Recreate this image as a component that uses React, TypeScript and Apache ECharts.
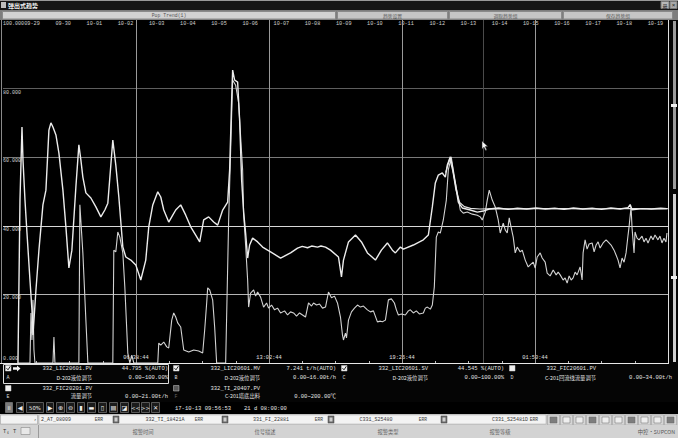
import React, { useEffect, useRef } from "react";
import * as echarts from "echarts";

// ---- axis definitions ----
const SPAN_DAYS = 21 + 8 / 24; // "21 d 08:00:00"
const dateLabels = ["09-29", "09-30", "10-01", "10-02", "10-03", "10-04", "10-05", "10-06", "10-07", "10-08", "10-09", "10-10", "10-11", "10-12", "10-13", "10-14", "10-15", "10-16", "10-17", "10-18", "10-19"];
const firstDateOffset = 0.93;
const cursorTimes = ["06:38:44", "13:02:44", "19:26:44", "01:50:44"];
const yTicks = [0, 20, 40, 60, 80, 100];
const yGridColors = ["rgba(0,0,0,0)", "#b4b4b4", "#d8d8d8", "#7a7a7a", "#5e5e5e", "rgba(0,0,0,0)"];
const faintCursorDay = 15.4;

// ---- series (x: days from trend start, y: % of range) ----
const pvA: number[][] = [
  [0.48, 0], [0.545, 47.5], [0.609, 68.8], [0.641, 59.2], [0.705, 47.5], [0.769, 37.9], [0.865, 24.2], [0.929, 15.5], [0.961, 8.2], [0.993, 12.5],
  [1.057, 21.3], [1.153, 32.9], [1.281, 46.1], [1.377, 50.4], [1.473, 67.9], [1.537, 70.0], [1.602, 68.8], [1.698, 66.5], [1.794, 61.2], [1.922, 50.4],
  [2.018, 39.7], [2.114, 27.7], [2.21, 32.9], [2.338, 51.3], [2.434, 63.6], [2.498, 59.2], [2.562, 54.2], [2.659, 49.6], [2.819, 48.1], [2.979, 45.5],
  [3.139, 42.6], [3.267, 44.6], [3.363, 46.6], [3.459, 57.7], [3.523, 65.0], [3.619, 57.7], [3.716, 48.4], [3.844, 33.8], [3.94, 30.9], [4.1, 30.0],
  [4.26, 28.6], [4.42, 24.2], [4.58, 30.0], [4.676, 39.7], [4.805, 46.1], [4.965, 49.9], [5.061, 48.4], [5.157, 44.6], [5.317, 41.1], [5.445, 43.1],
  [5.541, 44.6], [5.701, 46.1], [5.862, 43.1], [6.022, 39.7], [6.182, 37.3], [6.31, 35.3], [6.438, 41.7], [6.598, 42.6], [6.758, 41.1], [6.887, 40.2],
  [7.047, 44.6], [7.207, 46.9], [7.271, 56.3], [7.335, 76.7], [7.367, 85.4], [7.431, 82.5], [7.527, 81.9], [7.591, 70.8], [7.655, 53.4], [7.719, 44.0],
  [7.783, 37.9], [7.848, 30.6], [7.912, 34.4], [8.008, 36.4], [8.168, 35.3], [8.328, 33.8], [8.488, 32.9], [8.584, 32.4], [8.905, 30.6], [9.225, 32.1],
  [9.449, 33.5], [9.6, 34.0], [9.77, 33.6], [9.9, 34.1], [10.09, 33.8], [10.2, 34.1], [10.346, 33.8], [10.506, 32.9], [10.762, 30.9], [10.858, 25.1],
  [10.922, 30.0], [11.083, 35.3], [11.307, 37.3], [11.499, 35.3], [11.691, 32.1], [11.947, 30.0], [12.139, 32.9], [12.332, 35.0], [12.492, 32.9], [12.588, 32.1],
  [12.748, 33.8], [12.844, 33.2], [13.164, 34.4], [13.485, 35.9], [13.645, 37.3], [13.773, 45.5], [13.869, 52.5], [13.965, 54.8], [14.093, 55.4], [14.19, 54.2],
  [14.254, 57.7], [14.35, 60.1], [14.414, 57.7], [14.51, 52.5], [14.606, 46.9], [14.734, 45.2], [14.99, 44.6], [15.215, 44.0], [15.407, 44.3], [15.6, 44.9],
  [15.9, 45.2], [16.2, 44.8], [16.5, 45.1], [16.8, 44.9], [17.1, 45.2], [17.4, 44.9], [17.7, 45.1], [18.0, 44.8], [18.3, 45.2], [18.6, 44.9],
  [18.9, 45.1], [19.2, 44.8], [19.5, 45.2], [19.8, 44.9], [20.05, 45.3], [20.12, 46.2], [20.18, 44.7], [20.5, 45.0], [20.8, 44.9], [21.1, 45.1], [21.3, 45.0],
];

const mvB: number[][] = [
  [0.48, 0], [0.865, 0], [0.897, 14.6], [0.929, 6.7], [0.961, 18.4], [0.993, 3.8], [1.025, 0], [1.602, 0], [1.634, 7.6], [1.666, 0],
  [2.434, 0], [2.466, 46.1], [2.562, 32.1], [2.659, 12.5], [2.723, 0], [3.523, 0], [3.555, 32.9], [3.619, 32.4], [3.683, 38.2], [3.748, 36.7],
  [3.844, 32.1], [3.908, 22.2], [4.004, 2.9], [4.068, 0], [4.132, 2.3], [4.196, 0], [4.965, 0], [4.997, 5.8], [5.061, 5.2], [5.157, 6.1],
  [5.253, 4.7], [5.317, 4.4], [5.413, 12.5], [5.477, 14.6], [5.541, 13.4], [5.605, 11.7], [5.701, 10.5], [5.798, 3.8], [5.958, 3.2], [6.118, 3.8],
  [6.278, 3.5], [6.406, 2.9], [6.47, 9.6], [6.534, 17.5], [6.566, 21.9], [6.63, 21.3], [6.726, 18.4], [6.79, 10.5], [6.854, 0], [7.143, 0],
  [7.239, 41.7], [7.367, 82.5], [7.463, 81.0], [7.559, 75.8], [7.687, 56.3], [7.719, 43.7], [7.783, 34.4], [7.848, 24.2], [7.88, 16.3], [7.944, 20.4],
  [8.04, 21.3], [8.104, 19.5], [8.168, 20.7], [8.264, 19.2], [8.36, 16.3], [8.456, 17.5], [8.52, 16.0], [8.616, 16.9], [8.712, 15.5], [8.808, 16.0],
  [8.905, 14.6], [9.033, 15.2], [9.129, 14.0], [9.225, 14.9], [9.321, 14.6], [9.417, 13.7], [9.513, 14.6], [9.609, 14.0], [9.705, 13.4], [9.801, 17.5],
  [9.898, 16.6], [9.962, 17.5], [10.058, 16.9], [10.154, 17.2], [10.25, 16.0], [10.346, 16.3], [10.442, 20.7], [10.538, 19.0], [10.634, 19.5], [10.73, 17.5],
  [10.826, 13.4], [10.89, 8.2], [10.922, 6.7], [10.986, 8.7], [11.019, 7.3], [11.083, 12.5], [11.179, 14.9], [11.275, 16.0], [11.371, 16.9], [11.467, 16.3],
  [11.563, 16.6], [11.691, 15.5], [11.787, 14.9], [11.883, 15.2], [12.011, 12.0], [12.107, 12.2], [12.172, 12.0], [12.268, 12.5], [12.364, 18.4], [12.46, 18.7],
  [12.556, 17.5], [12.62, 15.5], [12.684, 14.0], [12.78, 14.3], [12.908, 14.0], [13.004, 15.2], [13.068, 15.5], [13.164, 14.6], [13.26, 15.2], [13.357, 14.3],
  [13.485, 14.6], [13.549, 16.0], [13.613, 16.3], [13.709, 15.7], [13.773, 16.9], [13.837, 22.2], [13.901, 36.7], [13.965, 38.2], [14.029, 37.9], [14.125, 41.7],
  [14.222, 47.5], [14.286, 56.3], [14.382, 60.1], [14.446, 55.4], [14.574, 49.6], [14.67, 44.6], [14.766, 43.7], [14.894, 44.0], [15.054, 43.4], [15.215, 43.1],
  [15.311, 42.6], [15.375, 41.7], [15.471, 44.0], [15.535, 47.5], [15.599, 50.4], [15.695, 47.5], [15.791, 45.5], [15.887, 41.7], [15.951, 37.9], [16.048, 40.8],
  [16.112, 38.8], [16.176, 37.9], [16.24, 42.3], [16.304, 39.4], [16.368, 36.7], [16.432, 32.1], [16.496, 33.8], [16.592, 32.4], [16.657, 32.9], [16.753, 30.0],
  [16.849, 28.0], [16.913, 28.6], [17.009, 29.4], [17.073, 27.7], [17.137, 30.9], [17.233, 32.1], [17.297, 30.6], [17.393, 29.4], [17.457, 26.2], [17.553, 25.4],
  [17.65, 27.1], [17.746, 25.7], [17.81, 26.5], [17.874, 25.7], [17.97, 24.2], [18.034, 24.8], [18.098, 23.3], [18.162, 25.4], [18.226, 24.2], [18.29, 24.8],
  [18.354, 26.5], [18.418, 25.7], [18.514, 28.0], [18.578, 24.2], [18.61, 32.1], [18.674, 35.9], [18.738, 33.2], [18.802, 34.7], [18.899, 35.0], [18.963, 32.4],
  [19.027, 34.4], [19.091, 35.3], [19.155, 33.5], [19.251, 35.0], [19.347, 35.9], [19.411, 35.3], [19.507, 34.4], [19.603, 32.9], [19.667, 31.5], [19.731, 30.0],
  [19.795, 27.7], [19.859, 30.6], [19.924, 29.4], [19.988, 32.1], [20.052, 37.3], [20.084, 39.7], [20.148, 45.5], [20.18, 39.4], [20.244, 32.1], [20.276, 38.2],
  [20.34, 36.4], [20.404, 35.9], [20.5, 37.0], [20.564, 35.3], [20.628, 36.4], [20.692, 35.0], [20.788, 37.0], [20.852, 35.9], [20.916, 37.3], [21.012, 35.9],
  [21.076, 37.0], [21.14, 35.0], [21.204, 36.4], [21.268, 35.3], [21.3, 37.9],
];

const svC: number[][] = [
  [14.2, 55.5], [14.33, 59.5], [14.43, 56.0], [14.53, 50.5], [14.65, 46.8], [14.8, 45.6], [15.0, 45.1], [15.3, 44.9], [15.8, 45.0], [16.5, 44.9],
  [17.2, 45.0], [18.0, 45.0], [18.8, 44.9], [19.6, 45.0], [20.3, 45.0], [21.0, 44.9], [21.33, 45.0],
];

// ---- legend panel texts ----
const legendKeys = ["A", "B", "C", "D", "E", "F"];
const legendTags = ["332_LIC20601.PV", "332_LIC20601.MV", "332_LIC20601.SV", "332_FIC20601.PV", "332_FIC20201.PV", "332_TI_20407.PV"];
const legendDescs = ["D-202液位调节", "D-202液位调节", "D-202液位调节", "C-201回流线流量调节", "流量调节", "C-201塔底出料"];
const legendValues = ["44.795 %(AUTO)", "7.241 t/h(AUTO)", "44.545 %(AUTO)", "", "", ""];
const legendRanges = ["0.00~100.00%", "0.00~16.00t/h", "0.00~100.00%", "0.00~34.00t/h", "0.00~21.00t/h", "0.00~200.00℃"];
const legendChecked = [true, true, true, false, false, false];

const tabTitles = ["Pop Trend(1)", "趋势设置", "调取趋势组", "保存趋势组"];
const alarmTags = ["2_AT_08009", "332_TI_18421A", "331_FI_22881", "C331_S25480", "C331_S25481D"];
const alarmHeaders = ["报警时间", "位号描述", "报警类型", "报警等级"];
const statusTime = "17-10-13 09:56:53";
const statusSpan = "21 d 08:00:00";

const MONO = '"Liberation Mono", "DejaVu Sans Mono", "Noto Sans CJK SC", monospace';
const CJK = '"Noto Sans CJK SC", "Liberation Mono", sans-serif';

function T(x: number, y: number, text: string, o: any = {}) {
  const align = o.align ?? "left";
  return {
    type: "text", x, y, silent: true, z: 100,
    style: {
      text, fill: o.fill ?? "#e4e4e4", fontSize: o.size ?? 5.5, fontFamily: o.family ?? MONO,
      fontWeight: o.weight ?? "normal", align, verticalAlign: "middle", textAlign: align, textVerticalAlign: "middle",
    },
  };
}
function R(x: number, y: number, w: number, h: number, fill: any, stroke?: string, lw = 1) {
  return { type: "rect", silent: true, z: 90, shape: { x, y, width: w, height: h }, style: { fill, stroke: stroke ?? null, lineWidth: lw } };
}
function L(x1: number, y1: number, x2: number, y2: number, stroke: string, lw = 1) {
  return { type: "line", silent: true, z: 95, shape: { x1, y1, x2, y2 }, style: { stroke, lineWidth: lw } };
}

function buildGraphic() {
  const g: any[] = [];
  // title bar
  g.push(R(0, 0, 678, 10, "#161616"));
  g.push(L(0, 0.5, 678, 0.5, "#9a9a9a"));
  g.push(R(1, 2, 5, 6, "#bdbdbd"));
  g.push(T(8, 5.3, "弹出式趋势", { size: 6, family: CJK, weight: "bold", fill: "#f2f2f2" }));
  g.push(R(661, 1.5, 8, 7, "#b8b8b8", "#777"));
  g.push(T(665, 5, "最", { size: 5, family: CJK, fill: "#333", align: "center" }));
  g.push(R(670, 1.5, 7, 7, "#a8a8a8", "#777"));
  g.push(T(673.5, 5, "×", { size: 6, fill: "#222", align: "center" }));
  // tab bar
  g.push(R(0, 10, 678, 10, "#7e7e7e"));
  const tabs = [[2, 334], [337, 111], [449, 113], [563, 110]];
  tabs.forEach(([x, w], i) => {
    g.push(R(x + 0.5, 11.5, w - 1, 7.5, i === 0 ? "#d2d2d2" : "#c6c6c6", "#8a8a8a"));
    g.push(T(x + w / 2, 15.3, tabTitles[i], { size: 4.8, family: i === 0 ? MONO : CJK, fill: "#555", align: "center" }));
  });
  // plot frame
  g.push(L(1.5, 20, 1.5, 363, "#8a8a8a"));
  g.push(L(668.5, 20, 668.5, 363, "#e0e0e0"));
  g.push(L(0, 363.5, 669, 363.5, "#e8e8e8"));
  // right scroll strips
  g.push(R(669, 20, 9, 344, "#050505"));
  g.push(R(673, 21, 3, 168, "#9c9c9c"));
  g.push(R(673, 194, 3, 168, "#d0d0d0"));
  g.push(R(671, 104, 6, 3, "#f0f0f0"));
  g.push(R(671, 276, 6, 3, "#f0f0f0"));
  // mouse pointer
  g.push({ type: "polygon", silent: true, z: 120, shape: { points: [[482, 141], [482, 149], [484, 147.2], [485.6, 150.5], [486.8, 150], [485.3, 146.6], [487.8, 146.4]] }, style: { fill: "#f4f4f4", stroke: "#222", lineWidth: 0.5 } });
  // legend panel
  g.push(R(0, 364, 678, 38, "#050505"));
  g.push(R(3.5, 364.5, 165, 19, null, "#dcdcdc"));
  legendKeys.forEach((k, i) => {
    const col = i < 4 ? i : i - 4;
    const row = i < 4 ? 0 : 1;
    const bx = 3 + col * 168;
    const y1 = row === 0 ? 368.5 : 388.5;
    const y2 = row === 0 ? 377.5 : 396;
    const cbFill = i === 5 ? "#5a5a5a" : "#f0f0f0";
    g.push(R(bx + 2.5, y1 - 3, 5.5, 5.5, cbFill, "#cfcfcf", 0.5));
    if (legendChecked[i]) {
      g.push({ type: "polyline", silent: true, z: 110, shape: { points: [[bx + 3.5, y1 - 0.3], [bx + 5, y1 + 1.3], [bx + 7.3, y1 - 2.2]] }, style: { stroke: "#111", lineWidth: 0.9, fill: null } });
    }
    g.push(T(bx + 5, y2 + 0.5, k, { size: 5, fill: i === 5 ? "#666" : "#dcdcdc", align: "center" }));
    if (i === 0) {
      g.push({ type: "polygon", silent: true, z: 110, shape: { points: [[bx + 10, y1 - 1.2], [bx + 14, y1 - 1.2], [bx + 14, y1 - 3], [bx + 17.5, y1], [bx + 14, y1 + 3], [bx + 14, y1 + 1.2], [bx + 10, y1 + 1.2]] }, style: { fill: "#f4f4f4" } });
    }
    g.push(T(bx + 89, y1, legendTags[i], { align: "right" }));
    g.push(T(bx + 89, y2, legendDescs[i], { align: "right", family: CJK, size: 5.3 }));
    if (legendValues[i]) g.push(T(bx + 165, y1, legendValues[i], { align: "right" }));
    g.push(T(bx + 165, y2, legendRanges[i], { align: "right" }));
  });
  // toolbar
  const tools: [string, number, number][] = [["II", 5, 8], ["◀", 16, 8], ["50%", 26, 18], ["▶", 46, 8], ["⊕", 56, 9], ["⊖", 66, 9], ["▮", 77, 8], ["▬", 87, 9], ["▯", 98, 9], ["▤", 109, 9], ["◪", 120, 9], ["<<", 131, 9], [">>", 141, 9], ["✕", 151, 9]];
  tools.forEach(([s, x, w], i) => {
    g.push(R(x + 0.5, 402.5, w - 1, 10, i === 0 ? "#7a7a7a" : "#1b1b1b", "#8c8c8c", 0.6));
    g.push(T(x + w / 2, 407.8, s, { size: s.length > 1 ? 5.3 : 6.2, fill: "#eeeeee", align: "center", family: '"DejaVu Sans", "Liberation Mono", sans-serif' }));
  });
  g.push(T(175, 408, statusTime, { fill: "#e6e6e6" }));
  g.push(T(244, 408, statusSpan, { fill: "#e6e6e6" }));
  // alarm / status bar
  g.push(R(0, 414, 678, 24, "#c9c9c9"));
  g.push(R(0.5, 415, 37, 9, "#f2f2f2", "#999", 0.5));
  g.push(T(34, 419, ",", { fill: "#333", size: 5 }));
  g.push(R(39, 415, 507, 9, "#f3f3f3", "#aaa", 0.5));
  const tagCenters = [56, 165, 271, 376, 510];
  const errX = [99, 199, 319, 423, 534];
  const iconX = [113, 222, 328, 441, 0];
  alarmTags.forEach((t, i) => {
    g.push(T(tagCenters[i], 419.5, t, { fill: "#3a3a3a", size: 5, align: "center" }));
    g.push(T(errX[i], 419.5, "ERR", { fill: "#3a3a3a", size: 4.6, align: "center" }));
    if (iconX[i]) {
      g.push(R(iconX[i], 416, 6, 7, "#6a6a6a", "#444", 0.5));
      g.push(R(iconX[i] + 1.5, 417.5, 3, 4, "#cfcfcf"));
    }
  });
  for (let k = 0; k < 10; k++) {
    const x = 547 + k * 13;
    g.push(R(x + 0.5, 415, 12, 10, "#d6d6d6", "#9a9a9a", 0.5));
    g.push(R(x + 3, 417, 7, 6, k % 3 === 0 ? "#7d7d7d" : "#eeeeee", "#666", 0.5));
  }
  g.push(R(0, 425, 678, 13, "#d3d3d3"));
  g.push(L(38.5, 425, 38.5, 438, "#9a9a9a"));
  g.push(T(3, 431.5, "T₁", { fill: "#333", size: 5.5 }));
  g.push(T(13, 431.5, "T", { fill: "#333", size: 5.5 }));
  g.push(R(21, 427.5, 9, 7, "#e8e8e8", "#777", 0.5));
  const headerCenters = [143, 265, 388, 500];
  alarmHeaders.forEach((h, i) => g.push(T(headerCenters[i], 431.5, h, { fill: "#666", size: 5.3, family: CJK, align: "center" })));
  g.push(T(675, 431.5, "中控·SUPCON", { fill: "#555", size: 5.3, family: CJK, align: "right" }));
  return g;
}

function buildOption() {
  const dateTicks = dateLabels.map((_, i) => firstDateOffset + i);
  const majorStep = SPAN_DAYS / 5;
  const minorStep = SPAN_DAYS / 20;
  const cursorDays = cursorTimes.map((_, i) => majorStep * (i + 1));
  const minorTicks = Array.from({ length: 19 }, (_, i) => minorStep * (i + 1));

  const yLines = yTicks.map((v, i) => ({
    yAxis: v,
    lineStyle: { color: yGridColors[i], width: 1, type: "solid" },
    label: {
      show: true,
      position: v === 0 ? "insideStartTop" : "insideStartBottom",
      formatter: v.toFixed(3),
      color: "#d4d4d4",
      fontSize: 5.0,
      fontFamily: MONO,
      distance: [0, 1.5],
    },
  }));
  const xLines = cursorDays.map((d) => ({ xAxis: d, lineStyle: { color: "#9a9a9a", width: 1, type: "solid" }, label: { show: false } }));
  xLines.push({ xAxis: faintCursorDay, lineStyle: { color: "#4a4a4a", width: 1, type: "solid" }, label: { show: false } });

  const lineBase = { type: "line", xAxisIndex: 0, yAxisIndex: 0, showSymbol: false, symbol: "none", silent: true, animation: false, clip: true };

  return {
    animation: false,
    backgroundColor: "#000",
    grid: { left: 3, right: 10, top: 20, bottom: 75, show: false },
    xAxis: [
      {
        type: "value", position: "top", min: 0, max: SPAN_DAYS,
        axisLine: { show: false }, splitLine: { show: false },
        axisTick: { show: true, inside: true, length: 3, customValues: dateTicks, lineStyle: { color: "#bcbcbc" } },
        axisLabel: {
          inside: true, margin: 1.5, customValues: dateTicks, color: "#d0d0d0", fontSize: 5.2, fontFamily: MONO,
          formatter: (v: number) => dateLabels[Math.round(v - firstDateOffset)] ?? "",
        },
      },
      {
        type: "value", position: "bottom", min: 0, max: SPAN_DAYS,
        axisLine: { show: false }, splitLine: { show: false },
        axisTick: { show: true, inside: true, length: 2, customValues: minorTicks, lineStyle: { color: "#bcbcbc" } },
        axisLabel: {
          inside: true, margin: 2, customValues: cursorDays, color: "#e0e0e0", fontSize: 5.3, fontFamily: MONO,
          formatter: (v: number) => cursorTimes[Math.round(v / majorStep) - 1] ?? "",
        },
      },
    ],
    yAxis: {
      type: "value", min: 0, max: 100, interval: 20,
      axisLine: { show: false }, axisTick: { show: false }, axisLabel: { show: false }, splitLine: { show: false },
    },
    graphic: buildGraphic(),
    series: [
      {
        ...lineBase, name: "B", data: mvB, z: 3,
        lineStyle: { color: "#d2d2d2", width: 1.1 },
        markLine: { silent: true, symbol: ["none", "none"], animation: false, z: 1, data: [...yLines, ...xLines] },
      },
      { ...lineBase, name: "C", data: svC, z: 4, lineStyle: { color: "#e2e2e2", width: 1.2 } },
      { ...lineBase, name: "A", data: pvA, z: 5, lineStyle: { color: "#ececec", width: 1.4 } },
    ],
  };
}

export default function App() {
  const ref = useRef<HTMLDivElement>(null);
  useEffect(() => {
    document.body.style.margin = "0";
    const chart = echarts.init(ref.current!, undefined, { renderer: "svg", width: 678, height: 438 });
    chart.setOption(buildOption() as any);
    return () => chart.dispose();
  }, []);
  return <div ref={ref} style={{ width: 678, height: 438, position: "absolute", left: 0, top: 0, background: "#000" }} />;
}
